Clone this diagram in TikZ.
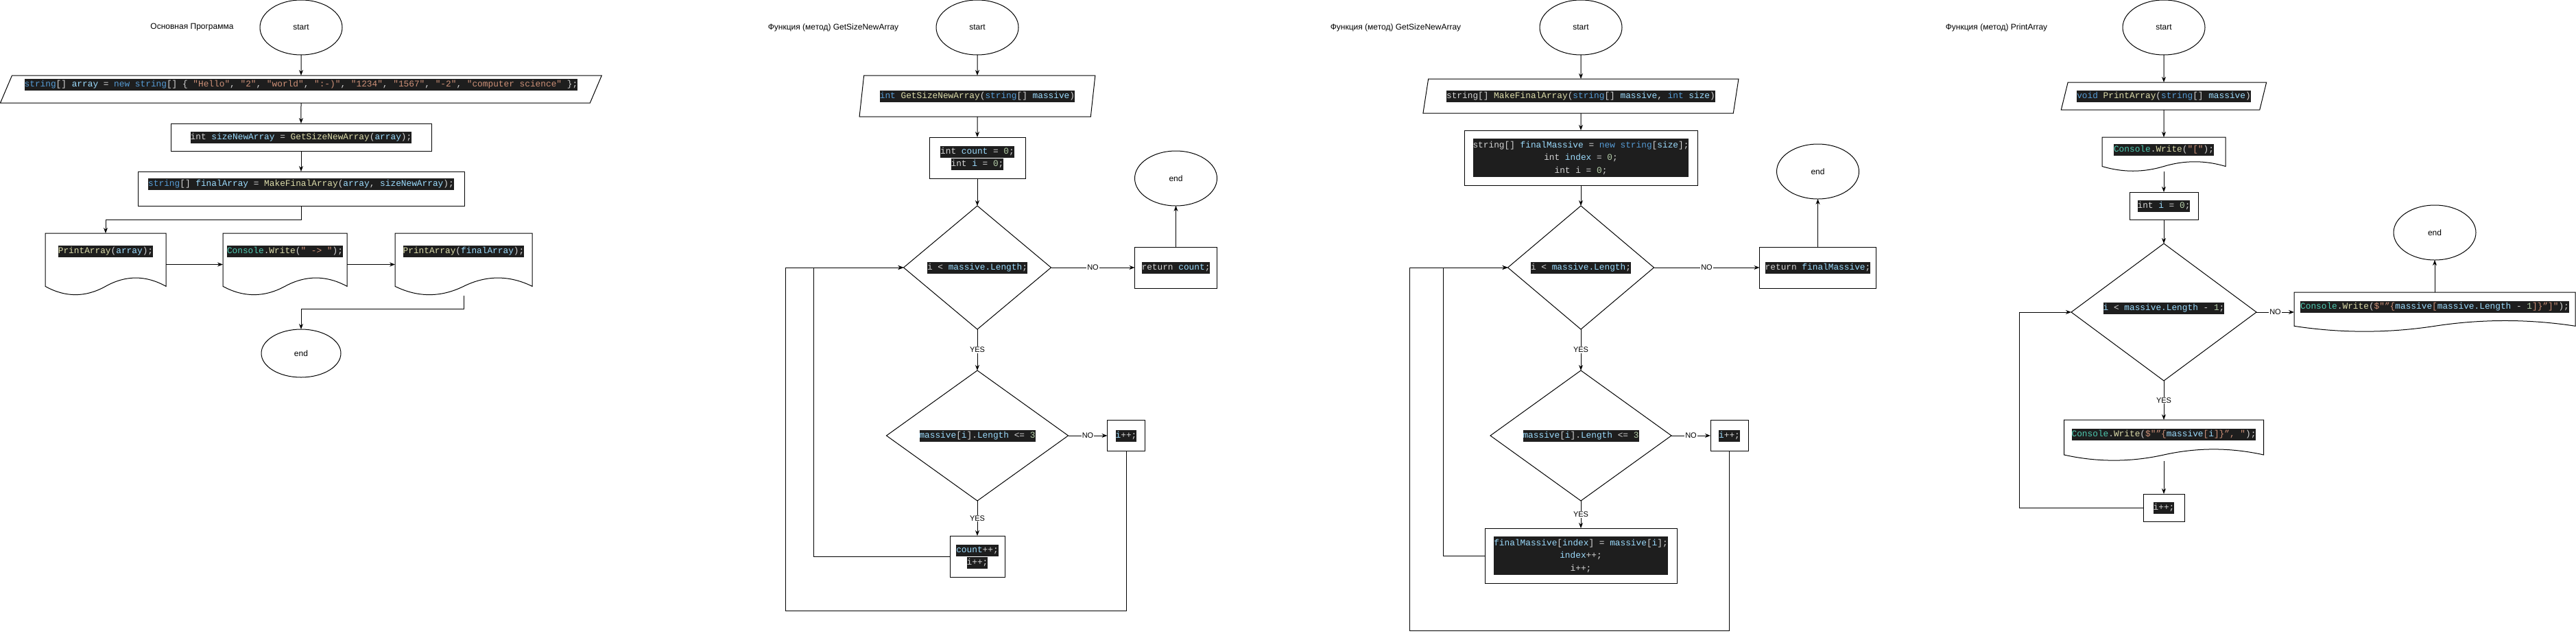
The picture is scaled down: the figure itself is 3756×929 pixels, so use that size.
\documentclass[tikz,border=0pt]{standalone}
\usepackage{fontspec}
\setmainfont{Liberation Sans}
\newfontfamily\codefont{Liberation Mono}
\usepackage{xcolor}
\usepackage{tikz}
\usetikzlibrary{shapes.geometric,arrows.meta,positioning,calc}

\definecolor{codebg}{HTML}{1E1E1E}
\definecolor{cdefc}{HTML}{D4D4D4}
\definecolor{ckwc}{HTML}{569CD6}
\definecolor{cvarc}{HTML}{9CDCFE}
\definecolor{cfnc}{HTML}{DCDCAA}
\definecolor{cstrc}{HTML}{CE9178}
\definecolor{cnumc}{HTML}{B5CEA8}
\definecolor{cclsc}{HTML}{4EC9B0}
\newcommand{\ckw}[1]{\textcolor{ckwc}{#1}}
\newcommand{\cvar}[1]{\textcolor{cvarc}{#1}}
\newcommand{\cfn}[1]{\textcolor{cfnc}{#1}}
\newcommand{\cstr}[1]{\textcolor{cstrc}{#1}}
\newcommand{\cnum}[1]{\textcolor{cnumc}{#1}}
\newcommand{\ccls}[1]{\textcolor{cclsc}{#1}}
\newcommand{\codehl}[1]{{\codefont\fontsize{12.8}{17}\selectfont\setlength{\fboxsep}{0pt}\colorbox{codebg}{\color{cdefc}\strut#1}}}
\newcommand{\codeblock}[1]{{\codefont\fontsize{12.8}{18.5}\selectfont\setlength{\fboxsep}{0pt}\colorbox{codebg}{\color{cdefc}\begin{tabular}{@{}c@{}}#1\end{tabular}}}}

\begin{document}
\begin{tikzpicture}[x=1pt, y=-1pt, line width=1pt, font=\fontsize{12}{14}\selectfont,
  sz/.style 2 args={minimum width=#1pt, minimum height=#2pt},
  box/.style={draw, rectangle, inner sep=0pt, outer sep=0pt, align=center},
  term/.style={draw, ellipse, inner sep=0pt, outer sep=0pt},
  para/.style={draw, trapezium, trapezium stretches=true, inner sep=0pt, outer sep=0pt},
  cond/.style={draw, diamond, aspect=1.3, inner sep=0pt, outer sep=0pt},
  doc/.style={rectangle, inner sep=0pt, outer sep=0pt},
  txtup/.style={text height=11.9pt, text depth=#1pt},
  ttl/.style={inner sep=0pt},
  lbl/.style={fill=white, inner sep=1pt, font=\fontsize{11}{13}\selectfont},
  arr/.style={-{Stealth[length=8pt, width=6pt]}}]
\path[use as bounding box, fill=white] (0,0) rectangle (3756,929);

\node[ttl] (t1) at (280,40) {Основная Программа};
\node[term, sz={120}{80}] (s1) at (439,40) {start};
\node[para, sz={878}{40}, trapezium left angle=62.3, trapezium right angle=117.7, txtup=19.1, below=30pt of s1] (in1) {\codehl{\ckw{string}[] \cvar{array} = \ckw{new} \ckw{string}[] \{ \cstr{"Hello"}, \cstr{"2"}, \cstr{"world"}, \cstr{":-)"}, \cstr{"1234"}, \cstr{"1567"}, \cstr{"-2"}, \cstr{"computer science"} \};}};
\node[box, sz={380}{40}, below=30pt of in1] (b1) {\codehl{int \cvar{sizeNewArray} = \cfn{GetSizeNewArray}(\cvar{array});}};
\node[box, sz={476}{50}, txtup=19.1, below=30pt of b1] (b2) {\codehl{\ckw{string}[] \cvar{finalArray} = \cfn{MakeFinalArray}(\cvar{array}, \cvar{sizeNewArray});}};
\node[doc, sz={176}{91}, txtup=44.1] (d1) at (154,385.5) {\codehl{\cfn{PrintArray}(\cvar{array});}};
\node[doc, sz={181}{91}, txtup=44.1, right=83pt of d1] (d2) {\codehl{\ccls{Console}.\cfn{Write}(\cstr{" -> "});}};
\node[doc, sz={200}{91}, txtup=44.1, right=70pt of d2] (d3) {\codehl{\cfn{PrintArray}(\cvar{finalArray});}};
\node[term, sz={116}{70}] (e1) at (439,515) {end};

\node[ttl] (t2) at (1215,40) {Функция (метод) GetSizeNewArray};
\node[term, sz={120}{80}] (s2) at (1425,40) {start};
\node[para, sz={345}{60}, trapezium left angle=71.6, trapezium right angle=108.4, below=30pt of s2] (in2) {\codehl{\ckw{int} \cfn{GetSizeNewArray}(\ckw{string}[] \cvar{massive})}};
\node[box, sz={140}{60}, below=30pt of in2] (b3) {\codehl{int \cvar{count} = \cnum{0};}\\\codehl{int \cvar{i} = \cnum{0};}};
\node[cond, sz={215}{180}, below=40pt of b3] (dm1) {\codehl{i < \cvar{massive.Length};}};
\node[box, sz={120}{60}, right=122pt of dm1] (r1) {\codehl{return \cvar{count};}};
\node[term, sz={120}{80}, above=60pt of r1] (e2) {end};
\node[cond, sz={265}{190}, below=60pt of dm1] (dm2) {\codehl{\cvar{massive}[\cvar{i}].\cvar{Length} <= \cnum{3}}};
\node[box, sz={55}{45}, right=57pt of dm2] (i1) {\codehl{\cvar{i}++;}};
\node[box, sz={80}{60}, below=51pt of dm2] (c1) {\codehl{\cvar{count}++;}\\\codehl{i++;}};

\node[ttl] (t3) at (2035,40) {Функция (метод) GetSizeNewArray};
\node[term, sz={120}{80}] (s3) at (2305,40) {start};
\node[para, sz={462}{50}, trapezium left angle=68.2, trapezium right angle=111.8, below=35pt of s3] (in3) {\codehl{string[] \cfn{MakeFinalArray}(\ckw{string}[] \cvar{massive}, \ckw{int} \cvar{size})}};
\node[box, sz={340}{80}, below=25pt of in3] (b4) {\codeblock{string[] \cvar{finalMassive} = \ckw{new} \ckw{string}[\cvar{size}];\\int \cvar{index} = \cnum{0};\\int i = \cnum{0};}};
\node[cond, sz={213}{180}, below=30pt of b4] (dm3) {\codehl{i < \cvar{massive.Length};}};
\node[box, sz={170}{60}, right=154pt of dm3] (r2) {\codehl{return \cvar{finalMassive};}};
\node[term, sz={120}{80}, above=70pt of r2] (e3) {end};
\node[cond, sz={264}{190}, below=60pt of dm3] (dm4) {\codehl{\cvar{massive}[\cvar{i}].\cvar{Length} <= \cnum{3}}};
\node[box, sz={55}{45}, right=57pt of dm4] (i2) {\codehl{\cvar{i}++;}};
\node[box, sz={280}{80}, below=40pt of dm4] (c2) {\codeblock{\cvar{finalMassive}[\cvar{index}] = \cvar{massive}[\cvar{i}];\\\cvar{index}++;\\i++;}};

\node[ttl] (t4) at (2911,40) {Функция (метод) PrintArray};
\node[term, sz={120}{80}] (s4) at (3155,40) {start};
\node[para, sz={300}{40}, trapezium left angle=62.3, trapezium right angle=117.7, below=40pt of s4] (in4) {\codehl{\ckw{void} \cfn{PrintArray}(\ckw{string}[] \cvar{massive})}};
\node[doc, sz={180}{50}, txtup=19.1, below=40pt of in4] (d4) {\codehl{\ccls{Console}.\cfn{Write}(\cstr{"["});}};
\node[box, sz={100}{40}, below=30pt of d4] (b5) {\codehl{int \cvar{i} = \cnum{0};}};
\node[cond, sz={270}{200}, txtup=17.1, below=35pt of b5] (dm5) {\codehl{\cvar{i} < \cvar{massive.Length} - \cnum{1};}};
\node[doc, sz={410}{58}, txtup=21.1, right=55pt of dm5] (d5) {\codehl{\ccls{Console}.\cfn{Write}(\cstr{\$"”\{}\cvar{massive}\cstr{[}\cvar{massive.Length} - \cnum{1}\cstr{]\}”]"});}};
\node[term, sz={120}{80}, above=47pt of d5] (e4) {end};
\node[doc, sz={291}{60}, txtup=23.1, below=57pt of dm5] (d6) {\codehl{\ccls{Console}.\cfn{Write}(\cstr{\$"”\{}\cvar{massive}\cstr{[}\cvar{i}\cstr{]\}”, "});}};
\node[box, sz={60}{40}, below=48pt of d6] (i3) {\codehl{i++;}};

\foreach \docnm in {d1,d2,d3,d4,d5,d6}
  \draw let \p1=(\docnm.north west), \p2=(\docnm.south east),
            \n1={0.3*(\y1-\y2)}, \n2={\x2-\x1} in
    (\p1) -- (\x2,\y1) -- (\x2,\y2+0.5*\n1)
    .. controls (\x1+0.8333*\n2,\y2+1.1*\n1) and (\x1+0.6667*\n2,\y2+1.1*\n1) .. (\x1+0.5*\n2,\y2+0.5*\n1)
    .. controls (\x1+0.3333*\n2,\y2-0.1*\n1) and (\x1+0.1667*\n2,\y2-0.1*\n1) .. (\x1,\y2+0.5*\n1) -- cycle;

\draw[arr] (s1) -- (in1);
\draw[arr] (in1) -- (b1);
\draw[arr] (b1) -- (b2);
\draw[arr] (b2.south) -- ++(0,20) -| (d1.north);
\draw[arr] (d1) -- (d2);
\draw[arr] (d2) -- (d3);
\draw[arr] (d3.south) -- ++(0,19) -| (e1.north);

\draw[arr] (s2) -- (in2);
\draw[arr] (in2) -- (b3);
\draw[arr] (b3) -- (dm1);
\draw[arr] (dm1) -- node[lbl] {NO} (r1);
\draw[arr] (r1) -- (e2);
\draw[arr] (dm1) -- node[lbl] {YES} (dm2);
\draw[arr] (dm2) -- node[lbl] {NO} (i1);
\draw[arr] (dm2) -- node[lbl] {YES} (c1);
\draw[arr] (c1.west) -- ++(-199,0) |- (dm1.west);
\draw[arr] (i1.south) -- ++(0,233) -- ++(-497,0) |- (dm1.west);

\draw[arr] (s3) -- (in3);
\draw[arr] (in3) -- (b4);
\draw[arr] (b4) -- (dm3);
\draw[arr] (dm3) -- node[lbl] {NO} (r2);
\draw[arr] (r2) -- (e3);
\draw[arr] (dm3) -- node[lbl] {YES} (dm4);
\draw[arr] (dm4) -- node[lbl] {NO} (i2);
\draw[arr] (dm4) -- node[lbl] {YES} (c2);
\draw[arr] (c2.west) -- ++(-61,0) |- (dm3.west);
\draw[arr] (i2.south) -- ++(0,262) -- ++(-466,0) |- (dm3.west);

\draw[arr] (s4) -- (in4);
\draw[arr] (in4) -- (d4);
\draw[arr] (d4) -- (b5);
\draw[arr] (b5) -- (dm5);
\draw[arr] (dm5) -- node[lbl] {NO} (d5);
\draw[arr] (d5) -- (e4);
\draw[arr] (dm5) -- node[lbl] {YES} (d6);
\draw[arr] (d6) -- (i3);
\draw[arr] (i3.west) -- ++(-181,0) |- (dm5.west);
\end{tikzpicture}
\end{document}
